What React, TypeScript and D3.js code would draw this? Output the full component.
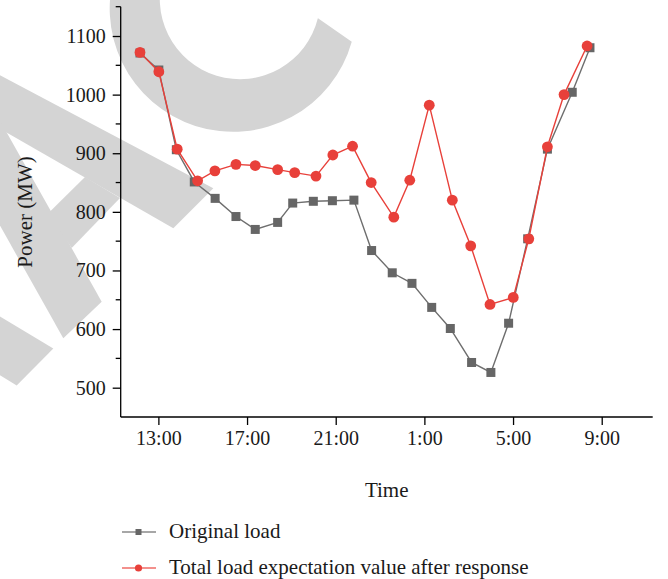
import React, { useRef, useEffect } from 'react';
import * as d3 from 'd3';

// time in hours (13 = 13:00, 25 = 1:00 next day)
const originalTime = [12.17, 13.02, 13.81, 14.62, 15.56, 16.5, 17.37, 18.38, 19.06, 19.99, 20.85, 21.82,
  22.62, 23.55, 24.44, 25.33, 26.17, 27.13, 28.0, 28.8, 29.66, 30.55, 31.67, 32.47];
const originalLoad = [1071, 1042, 906, 851, 823, 792, 770, 782, 815, 818, 819, 820,
  734, 696, 678, 637, 601, 543, 526, 610, 754, 907, 1004, 1080];

const responseTime = [12.17, 13.02, 13.85, 14.77, 15.55, 16.5, 17.37, 18.38, 19.15, 20.11, 20.87, 21.76,
  22.6, 23.62, 24.34, 25.22, 26.26, 27.09, 27.96, 29.01, 29.71, 30.55, 31.3, 32.34];
const responseLoad = [1072, 1039, 907, 853, 870, 881, 879, 872, 867, 861, 897, 912,
  850, 791, 854, 982, 820, 742, 642, 654, 754, 911, 1000, 1083];

const xTicks = [13, 17, 21, 25, 29, 33];
const yTicks = [500, 600, 700, 800, 900, 1000, 1100];
const yMinorTicks = [550, 650, 750, 850, 950, 1050, 1150];

const seriesNames = ['Original load', 'Total load expectation value after response'];

const GRAY = '#666666';
const RED = '#e8403a';
const FONT = '"Liberation Serif", "Times New Roman", serif';

function Chart() {
  const svgRef = useRef<SVGSVGElement>(null);

  useEffect(() => {
    const svg = d3.select(svgRef.current);
    svg.selectAll('*').remove();

    const x = d3.scaleLinear().domain([11.3, 35.3]).range([120.7, 652.7]);
    const y = d3.scaleLinear().domain([450, 1150]).range([417, 6.7]);

    // watermark behind the plot
    const wm = svg.append('g').attr('fill', '#d4d4d4');
    const deg = Math.PI / 180;
    const c = d3.path();
    c.moveTo(233 + 123.3 * Math.cos(200 * deg), 8.5 + 123.3 * Math.sin(200 * deg));
    c.arc(233, 8.5, 123.3, 200 * deg, 15.6 * deg, true);
    c.lineTo(318, 18.3);
    c.arc(240, -1, 80.2, 13.9 * deg, 200 * deg, false);
    c.closePath();
    wm.append('path').attr('d', c.toString());
    const polys = [
      [[-10, 70], [213.3, 188.3], [173.3, 228.3], [-10, 123]],
      [[-20, 85], [101.7, 301.7], [63.3, 338.3], [-20, 190]],
      [[85, 177], [120, 198], [71.7, 248], [48.3, 213.3]],
      [[-10, 310.4], [53.3, 348.5], [16.7, 385.5], [-10, 369]],
    ];
    polys.forEach(p => wm.append('path').attr('d', 'M' + p.map(q => q.join(',')).join('L') + 'Z'));

    // axes
    const xAxis = d3.axisBottom(x).tickValues(xTicks).tickSize(8).tickPadding(6)
      .tickFormat(d => `${(d as number) % 24}:00`);
    const gx = svg.append('g').attr('transform', 'translate(0,417)').call(xAxis);
    gx.select('.domain').attr('d', 'M120.7,0H652.7');

    const yAxis = d3.axisLeft(y).tickValues(yTicks).tickSize(8).tickPadding(7).tickFormat(d3.format('d'));
    const gy = svg.append('g').attr('transform', 'translate(120.7,0)').call(yAxis);
    gy.select('.domain').attr('d', 'M0,6.7V417');
    gy.selectAll('.minor').data(yMinorTicks).join('line')
      .attr('class', 'minor').attr('x1', -5).attr('x2', 0)
      .attr('y1', d => y(d)).attr('y2', d => y(d)).attr('stroke', '#000');

    [gx, gy].forEach(g => {
      g.selectAll('path,line').attr('stroke', '#000').attr('stroke-width', 1.3);
      g.selectAll('text').attr('font-family', FONT).attr('font-size', 20).attr('fill', '#1a1a1a');
    });

    svg.append('text').attr('x', 386.7).attr('y', 497).attr('text-anchor', 'middle')
      .attr('font-family', FONT).attr('font-size', 21).attr('fill', '#1a1a1a').text('Time');
    svg.append('text').attr('transform', 'translate(32,212) rotate(-90)').attr('text-anchor', 'middle')
      .attr('font-family', FONT).attr('font-size', 21).attr('fill', '#1a1a1a').text('Power (MW)');

    // series
    const line = d3.line<[number, number]>().x(d => x(d[0])).y(d => y(d[1]));
    const grayPts = originalTime.map((t, i) => [t, originalLoad[i]] as [number, number]);
    const redPts = responseTime.map((t, i) => [t, responseLoad[i]] as [number, number]);

    svg.append('path').attr('d', line(grayPts)).attr('fill', 'none').attr('stroke', '#6e6e6e').attr('stroke-width', 1.4);
    svg.append('g').selectAll('rect').data(grayPts).join('rect')
      .attr('x', d => x(d[0]) - 4.5).attr('y', d => y(d[1]) - 4.5)
      .attr('width', 9).attr('height', 9).attr('fill', GRAY);

    svg.append('path').attr('d', line(redPts)).attr('fill', 'none').attr('stroke', RED).attr('stroke-width', 1.4);
    svg.append('g').selectAll('circle').data(redPts).join('circle')
      .attr('cx', d => x(d[0])).attr('cy', d => y(d[1])).attr('r', 5.4).attr('fill', RED);

    // legend
    const legend = svg.append('g');
    seriesNames.forEach((name, i) => {
      const ly = 532 + i * 36;
      const col = i === 0 ? GRAY : RED;
      legend.append('line').attr('x1', 122).attr('x2', 156).attr('y1', ly).attr('y2', ly)
        .attr('stroke', i === 0 ? '#8a8a8a' : '#ef6b66').attr('stroke-width', 1.5);
      if (i === 0) {
        legend.append('rect').attr('x', 135.5).attr('y', ly - 3).attr('width', 6).attr('height', 6).attr('fill', col);
      } else {
        legend.append('circle').attr('cx', 138.5).attr('cy', ly).attr('r', 3.6).attr('fill', col);
      }
      legend.append('text').attr('x', 169).attr('y', ly + 6).attr('font-family', FONT)
        .attr('font-size', 21).attr('fill', '#1a1a1a').text(name);
    });
  }, []);

  return <svg ref={svgRef} width={668} height={579} style={{ position: 'absolute', left: 0, top: 0, background: '#fff' }} />;
}

export default function App() {
  return <Chart />;
}
